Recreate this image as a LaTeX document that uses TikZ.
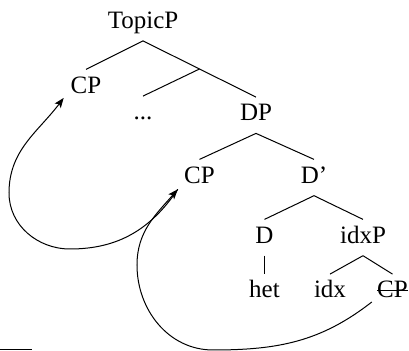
\documentclass[tikz,border=0pt]{standalone}
\usepackage{fontspec}
\setmainfont{Liberation Serif}
\usetikzlibrary{arrows.meta,calc}
\begin{document}
\begin{tikzpicture}[x=0.5pt,y=-0.5pt,
  lab/.style={anchor=base, inner xsep=0pt, inner ysep=3.25pt, text height=8.5pt, text depth=2.75pt, font=\fontsize{12.5}{15}\selectfont},
  edge/.style={line width=0.5pt},
  move/.style={line width=0.5pt, -{Stealth[length=5pt,width=3.8pt,inset=1.2pt]}}]
\useasboundingbox (0,0) rectangle (409,351);
% nodes
\node[lab] (topic) at (143,28.5) {TopicP};
\node[lab] (cpa) at (86,93.3) {CP};
\node[lab] (dots) at (143,120) {...};
\node[lab] (dp) at (256,121) {DP};
\node[lab] (cpb) at (199.5,183.3) {CP};
\node[lab] (dbar) at (314,183.3) {D’};
\node[lab] (d) at (264.5,243.3) {D};
\node[lab] (idxp) at (363,243.3) {idxP};
\node[lab] (het) at (264.5,298) {het};
\node[lab] (idx) at (330,298) {idx};
\node[lab] (cpc) at (392.5,298) {CP};
% tree edges
\draw[edge] (topic.south) -- (cpa.north);
\draw[edge] (topic.south) -- (dp.north);
\coordinate (br) at ($(topic.south)!0.5!(dp.north)$);
\draw[edge] (br) -- (dots.north);
\draw[edge] (dp.south) -- (cpb.north);
\draw[edge] (dp.south) -- (dbar.north);
\draw[edge] (dbar.south) -- (d.north);
\draw[edge] (dbar.south) -- (idxp.north);
\draw[edge] (d.south) -- (het.north);
\draw[edge] (idxp.south) -- (idx.north);
\draw[edge] (idxp.south) -- (cpc.north);
% strike-through
\draw[edge] ([yshift=3.65pt]cpc.base west) -- ([yshift=3.65pt]cpc.base east);
% movement arrows
\coordinate (a0) at ([shift={(-3pt,-3pt)}]cpb.base west);
\coordinate (a1) at (70,249);
\coordinate (a2) at (9,193);
\coordinate (a3) at ([shift={(-3.3pt,-2.3pt)}]cpa.base west);
\draw[move] (a0) to[out=236,in=0] (a1) to[out=180,in=270] (a2) to[out=90,in=233] (a3);
\coordinate (b0) at ([shift={(-2.5pt,-2pt)}]cpc.base west);
\coordinate (b1) at (213,350);
\coordinate (b2) at (137,265);
\draw[move] (b0) to[out=218,in=0] (b1) to[out=180,in=270] (b2) to[out=90,in=229] (a0);
% short rule
\coordinate (r0) at (0,349.5);
\coordinate (r1) at (32,349.5);
\draw[edge] (r0) -- (r1);
\end{tikzpicture}
\end{document}
